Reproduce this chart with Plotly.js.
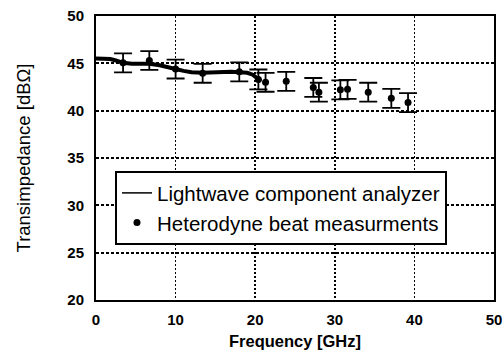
<!DOCTYPE html>
<html>
<head>
<meta charset="utf-8">
<script src="https://cdn.plot.ly/plotly-3.0.1.min.js"></script>
<style>html,body{margin:0;padding:0;background:#fff;}#chart{width:502px;height:358px;}</style>
</head>
<body>
<div id="chart"></div>
<script>
// Lightwave component analyzer curve
const lcaFreq = [0, 1.0, 1.8, 2.5, 3.4, 4.5, 6.0, 6.7, 8.0, 9.0, 10.0, 11.0, 12.0, 13.4, 14.5, 16.0, 17.0, 18.0, 19.0, 19.7, 20.2, 20.5, 20.7];
const lcaVal  = [45.5, 45.5, 45.45, 45.3, 45.05, 44.95, 44.9, 44.95, 44.8, 44.65, 44.4, 44.2, 44.05, 44.0, 44.05, 44.15, 44.1, 44.05, 44.0, 43.8, 43.5, 43.2, 43.1];
// Heterodyne beat measurements
const hetFreq = [3.4, 6.7, 10.0, 13.4, 18.0, 20.4, 21.3, 23.9, 27.3, 28.0, 30.7, 31.6, 34.2, 37.1, 39.2];
const hetVal  = [45.05, 45.3, 44.4, 43.95, 44.1, 43.3, 43.0, 43.1, 42.45, 41.95, 42.2, 42.25, 41.95, 41.3, 40.85];
const hetErr  = [1.0, 1.0, 1.0, 1.0, 1.0, 1.05, 1.0, 1.0, 1.0, 1.0, 1.0, 1.0, 1.0, 1.0, 1.0];
const xTicks = [0, 10, 20, 30, 40, 50];
const yTicks = [20, 25, 30, 35, 40, 45, 50];
const names = ['Lightwave component analyzer', 'Heterodyne beat measurments'];

const traces = [
  {x: lcaFreq, y: lcaVal, mode: 'lines', line: {color: '#000', width: 4}, showlegend: false, hoverinfo: 'skip'},
  {x: hetFreq, y: hetVal, mode: 'markers', marker: {color: '#000', size: 7},
   error_y: {type: 'data', array: hetErr, visible: true, color: '#000', thickness: 1.8, width: 9},
   showlegend: false},
  {x: [null], y: [null], mode: 'lines', name: names[0], line: {color: '#000', width: 1.5}},
  {x: [null], y: [null], mode: 'markers', name: names[1], marker: {color: '#000', size: 7}}
];

const tickFont = {family: 'Liberation Sans, Arial, sans-serif', size: 15, color: '#000', weight: 'bold'};
const layout = {
  width: 502, height: 358,
  margin: {l: 96, r: 8, t: 16, b: 58},
  paper_bgcolor: '#fff', plot_bgcolor: '#fff',
  font: {family: 'Liberation Sans, Arial, sans-serif', color: '#000'},
  xaxis: {
    range: [0, 50], tickmode: 'array', tickvals: xTicks, ticktext: xTicks.map(String),
    showgrid: true, gridcolor: '#000', gridwidth: 1.5, griddash: '2px,2px',
    showline: true, linecolor: '#000', linewidth: 2, mirror: true, zeroline: false,
    ticks: '', ticklabelstandoff: 5, ticklabeloverflow: 'allow', tickfont: tickFont,
    title: {text: 'Frequency [GHz]', standoff: 8,
            font: {family: 'Liberation Sans, Arial, sans-serif', size: 16.5, weight: 'bold', color: '#000'}}
  },
  yaxis: {
    range: [20, 50], tickmode: 'array', tickvals: yTicks, ticktext: yTicks.map(String),
    showgrid: true, gridcolor: '#000', gridwidth: 2, griddash: '3px,2px',
    showline: true, linecolor: '#000', linewidth: 2, mirror: true, zeroline: false,
    ticks: '', ticklabelstandoff: 7, ticklabeloverflow: 'allow', tickfont: tickFont,
    title: {text: 'Transimpedance [dBΩ]', standoff: 32,
            font: {family: 'Liberation Sans, Arial, sans-serif', size: 18.5, color: '#000'}}
  },
  legend: {
    x: 0.0477, y: 0.454, xanchor: 'left', yanchor: 'top',
    bgcolor: '#fff', bordercolor: '#000', borderwidth: 2,
    font: {family: 'Liberation Sans, Arial, sans-serif', size: 20.5, color: '#000'},
    tracegroupgap: 0
  },
  showlegend: true
};
Plotly.newPlot('chart', traces, layout, {displayModeBar: false, staticPlot: true});
</script>
</body>
</html>
